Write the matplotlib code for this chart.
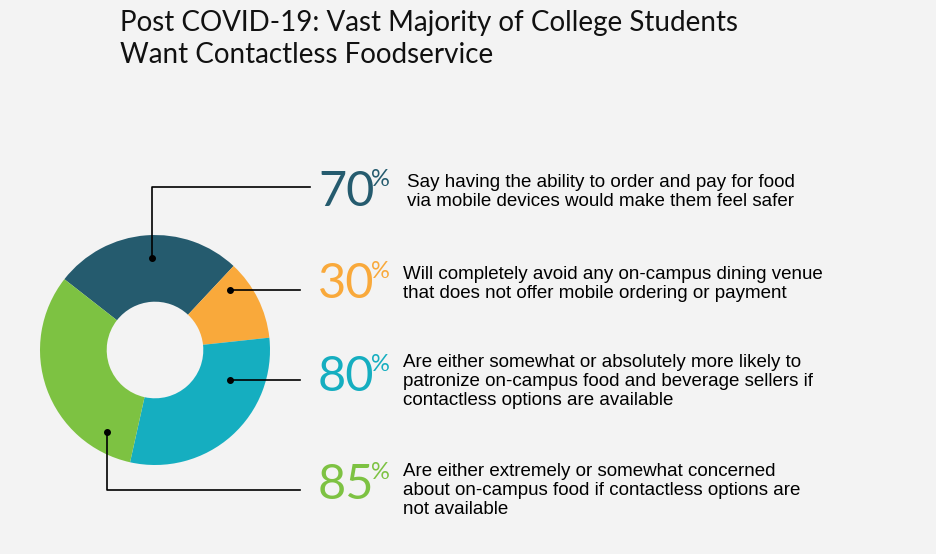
import matplotlib.pyplot as plt

# data
values = [70, 30, 80, 85]
pct_labels = ["70", "30", "80", "85"]
colors = ["#255b6e", "#f9a93b", "#15aec0", "#7dc242"]
texts = [
    "Say having the ability to order and pay for food\nvia mobile devices would make them feel safer",
    "Will completely avoid any on-campus dining venue\nthat does not offer mobile ordering or payment",
    "Are either somewhat or absolutely more likely to\npatronize on-campus food and beverage sellers if\ncontactless options are available",
    "Are either extremely or somewhat concerned\nabout on-campus food if contactless options are\nnot available",
]
title = "Post COVID-19: Vast Majority of College Students\nWant Contactless Foodservice"

H = 554
fig = plt.figure(figsize=(9.36, 5.54), dpi=100)
fig.patch.set_facecolor("#f3f3f3")
ax = fig.add_axes([0, 0, 1, 1])

ax.pie(values, colors=colors, startangle=142, counterclock=False,
       center=(155, H - 350), radius=115, frame=True,
       wedgeprops=dict(width=115 * 0.58, edgecolor="none"))
ax.set_xlim(0, 936)
ax.set_ylim(0, H)
ax.set_aspect("equal")
ax.axis("off")

# leader lines (pixel layout)
paths = [
    [(152, 258), (152, 187), (310, 187)],
    [(230, 290), (300, 290)],
    [(230, 380), (300, 380)],
    [(107, 432), (107, 490), (300, 490)],
]
for p in paths:
    xs = [q[0] for q in p]
    ys = [H - q[1] for q in p]
    ax.plot(xs, ys, color="black", lw=1.2)
    ax.plot(xs[0], ys[0], "o", color="black", ms=4)

label_y = [192, 284, 377, 485]
text_x = [407, 403, 403, 403]
text_y = [174, 266, 354, 463]
for i in range(4):
    ax.text(318, H - label_y[i], pct_labels[i], fontsize=35, color=colors[i],
            family="Lato", va="center", ha="left")
    ax.text(371, H - label_y[i] + 2, "%", fontsize=17, color=colors[i],
            family="Lato", va="bottom", ha="left")
    ax.text(text_x[i], H - text_y[i], texts[i], fontsize=13.5, family="Liberation Sans",
            va="top", ha="left", linespacing=1.15, color="black")

ax.text(120, H - 10, title, fontsize=20, family="Lato", va="top", ha="left",
        linespacing=1.3, color="#111111")

fig.savefig("out.png", dpi=100, facecolor=fig.get_facecolor())
